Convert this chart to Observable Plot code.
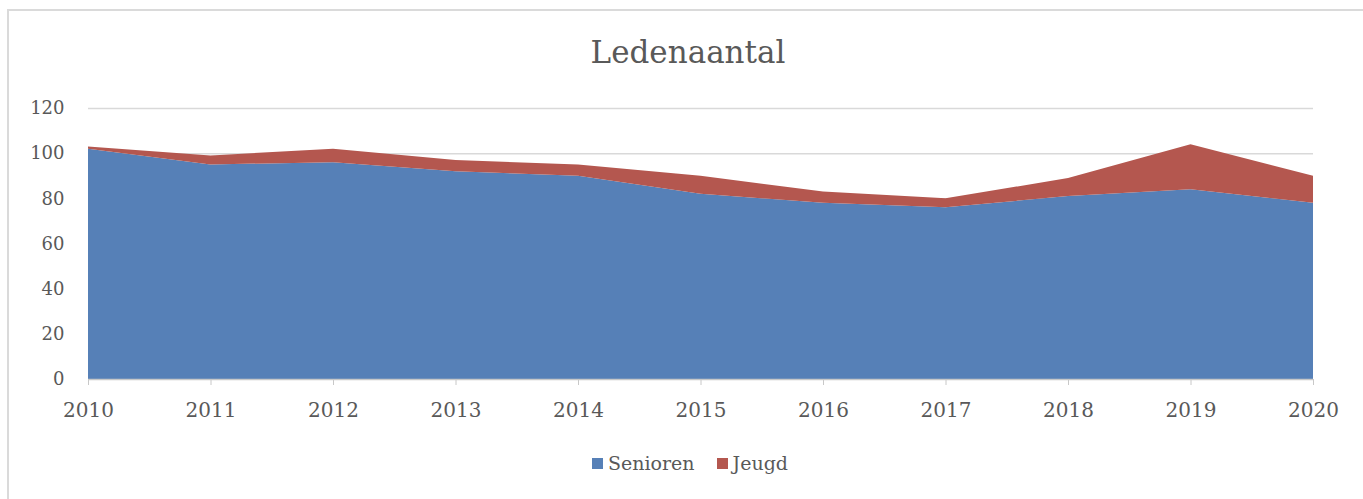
<!DOCTYPE html>
<html>
<head>
<meta charset="utf-8">
<script src="https://cdn.jsdelivr.net/npm/d3@7"></script>
<script src="https://cdn.jsdelivr.net/npm/@observablehq/plot@0.6"></script>
<style>
  html, body { margin: 0; padding: 0; background: #fff; }
  body { width: 1363px; height: 499px; position: relative; overflow: hidden; font-family: "DejaVu Serif", serif; }
  #frame { position: absolute; left: 7px; top: 9px; width: 1400px; height: 600px; border-top: 2px solid #dadada; border-left: 2px solid #dadada; box-sizing: border-box; }
  #title { position: absolute; left: 0; width: 1376px; top: 37px; text-align: center; font-size: 31px; color: #595959; line-height: 1; }
  #chart { position: absolute; left: 0; top: 0; }
  #legend { position: absolute; left: 0; width: 1380px; top: 452px; display: flex; justify-content: center; gap: 22px; font-size: 19px; color: #595959; }
  .item { display: flex; align-items: center; gap: 5px; }
  .sw { width: 11px; height: 11px; display: inline-block; }
</style>
</head>
<body>
<div id="frame"></div>
<div id="title">Ledenaantal</div>
<div id="chart"></div>
<div id="legend"></div>
<script>
const years = [2010, 2011, 2012, 2013, 2014, 2015, 2016, 2017, 2018, 2019, 2020];
const senioren = [102, 95, 96, 92, 90, 82, 78, 76, 81, 84, 78];
const jeugd = [1, 4, 6, 5, 5, 8, 5, 4, 8, 20, 12];
const seriesNames = ["Senioren", "Jeugd"];
const seriesColors = ["#5680B7", "#B4574F"];
const yTicks = [0, 20, 40, 60, 80, 100, 120];

const data = [];
years.forEach((yr, i) => {
  data.push({year: yr, series: "Senioren", value: senioren[i]});
  data.push({year: yr, series: "Jeugd", value: jeugd[i]});
});

const plot = Plot.plot({
  width: 1363,
  height: 440,
  marginLeft: 88,
  marginRight: 50,
  marginTop: 108,
  marginBottom: 61,
  style: {background: "transparent", fontFamily: "DejaVu Serif, serif", color: "#595959"},
  x: {domain: [2010, 2020], ticks: years, tickFormat: d => String(d), label: null},
  y: {domain: [0, 120], ticks: yTicks, label: null},
  color: {domain: seriesNames, range: seriesColors},
  marks: [
    Plot.ruleY(yTicks.filter(d => d > 0), {stroke: "#d9d9d9", strokeWidth: 1.5}),
    Plot.areaY(data, {x: "year", y: "value", fill: "series", order: seriesNames}),
    Plot.ruleY([0], {stroke: "#c8c8c8", strokeWidth: 1.5}),
    Plot.axisY({ticks: yTicks, tickSize: 0, tickPadding: 24, fontSize: 18, fill: "#595959", label: null}),
    Plot.axisX({ticks: years, tickSize: 6, tickPadding: 17, fontSize: 20, fill: "#595959", stroke: "#c8c8c8", tickFormat: d => String(d), label: null})
  ]
});
document.getElementById("chart").appendChild(plot);

const legend = document.getElementById("legend");
seriesNames.forEach((name, i) => {
  const it = document.createElement("div");
  it.className = "item";
  const sw = document.createElement("span");
  sw.className = "sw";
  sw.style.background = seriesColors[i];
  const t = document.createElement("span");
  t.textContent = name;
  it.appendChild(sw);
  it.appendChild(t);
  legend.appendChild(it);
});
</script>
</body>
</html>
